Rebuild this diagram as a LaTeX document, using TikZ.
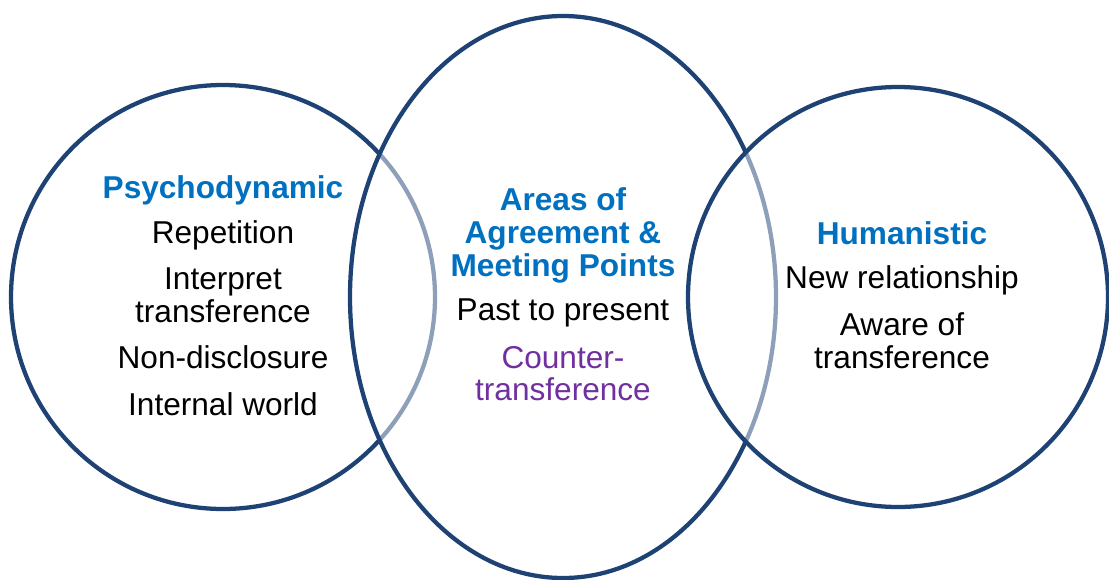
\documentclass[tikz,border=0pt]{standalone}
\usepackage{fontspec}
\setmainfont{Liberation Sans}
\definecolor{navy}{RGB}{30,66,116}
\definecolor{headblue}{RGB}{0,112,192}
\definecolor{purp}{RGB}{112,48,160}
\begin{document}
\begin{tikzpicture}[x=0.75pt,y=-0.75pt,
  ring/.style={draw=navy,line width=3.2pt,fill=white,fill opacity=0.5},
  txt/.style={anchor=base,inner sep=0pt,font=\fontsize{23.7pt}{24pt}\selectfont},
  head/.style={txt,font=\fontsize{23.7pt}{24pt}\selectfont\bfseries,text=headblue},
  purple text/.style={txt,text=purp}]
\useasboundingbox (0,0) rectangle (1109,579);
\path[ring] (223,297) ellipse [x radius=212,y radius=212];
\path[ring] (563,297) ellipse [x radius=213,y radius=281];
\path[ring] (898,297) ellipse [x radius=210,y radius=210];
% left
\node[head] (psy) at (223,198) {Psychodynamic};
\node[txt] (rep) at (223,243) {Repetition};
\node[txt] (int1) at (223,289) {Interpret};
\node[txt] (int2) at (223,322) {transference};
\node[txt] (non) at (223,368) {Non-disclosure};
\node[txt] (inw) at (223,415) {Internal world};
% centre
\node[head] (ar1) at (563,210) {Areas of};
\node[head] (ar2) at (563,243) {Agreement \&};
\node[head] (ar3) at (563,276) {Meeting Points};
\node[txt] (past) at (563,320) {Past to present};
\node[purple text] (ct1) at (563,368) {Counter-};
\node[purple text] (ct2) at (563,400) {transference};
% right
\node[head] (hum) at (902,244) {Humanistic};
\node[txt] (newr) at (902,288) {New relationship};
\node[txt] (aw1) at (902,335) {Aware of};
\node[txt] (aw2) at (902,368) {transference};
\end{tikzpicture}
\end{document}
